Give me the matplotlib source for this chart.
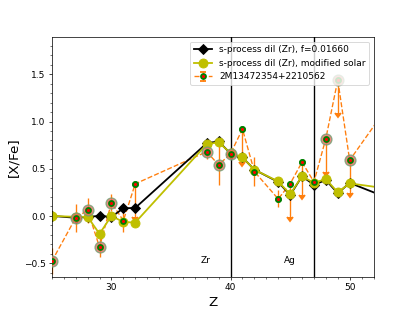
import numpy as np
import matplotlib
matplotlib.use("Agg")
import matplotlib.pyplot as plt
from matplotlib.ticker import MultipleLocator, AutoMinorLocator

# Model: s-process dilution (black diamonds)
z_model = [25, 27, 28, 29, 30, 31, 32, 38, 39, 40, 41, 42, 44, 45, 46, 47, 48, 49, 50, 56]
black_vals = [0.0, -0.02, -0.01, 0.0, -0.01, 0.08, 0.085, 0.77, 0.79, 0.66, 0.62, 0.49,
              0.36, 0.22, 0.42, 0.33, 0.38, 0.24, 0.35, 0.05]
# Model: modified solar (yellow circles)
yellow_vals = [0.0, -0.01, -0.01, -0.19, 0.0, -0.065, -0.07, 0.76, 0.78, 0.665, 0.62, 0.49,
               0.365, 0.23, 0.42, 0.35, 0.39, 0.25, 0.345, 0.24]

# Star observations
z_star = [25, 27, 28, 29, 30, 31, 32, 38, 39, 40, 41, 42, 44, 45, 46, 47, 48, 49, 50, 56]
star_vals = [-0.48, -0.02, 0.06, -0.33, 0.14, -0.05, 0.34, 0.68, 0.54, 0.66, 0.92, 0.47,
             0.18, 0.34, 0.57, 0.36, 0.82, 1.44, 0.59, 1.66]
star_err = [0.14, 0.15, 0.13, 0.11, 0.09, 0.12, 0.35, 0.08, 0.21, 0.05, 0.35, 0.15,
            0.09, 0.35, 0.35, 0.05, 0.35, 0.35, 0.35, 0.35]
star_uplim = [False, False, False, False, False, False, True, False, False, False, True, False,
              False, True, True, False, True, True, True, False]
halo_z = [25, 27, 28, 29, 30, 38, 39, 40, 48, 49, 50]
halo_vals = [-0.48, -0.02, 0.06, -0.33, 0.14, 0.68, 0.54, 0.66, 0.82, 1.44, 0.59]

line_z = [40, 47]
line_labels = ["Zr", "Ag"]

fig = plt.figure(figsize=(6.4, 4.8), dpi=415 / 6.4)
ax = fig.add_subplot(111)

for xv in line_z:
    ax.axvline(xv, color="black", lw=1.5, zorder=1)
for xv, lab in zip(line_z, line_labels):
    ax.text(xv - 2.5, -0.5, lab, fontsize=10, ha="left", va="baseline")

ax.plot(z_model, black_vals, color="black", marker="D", ms=8, lw=2,
        label="s-process dil (Zr), f=0.01660", zorder=2)
ax.plot(z_model, yellow_vals, color="y", marker="o", ms=10, lw=2,
        label="s-process dil (Zr), modified solar", zorder=2.1)

ax.errorbar(z_star, star_vals, yerr=star_err, uplims=star_uplim, fmt="--o",
            color="tab:orange", ecolor="tab:orange", mfc="red", mec="green",
            ms=5.5, mew=2, lw=1.5, elinewidth=1.5,
            label="2M13472354+2210562", zorder=1.2)
ax.plot(halo_z, halo_vals, "o", ms=12, mfc=(0.93, 0.42, 0.38), mec=(0.45, 0.62, 0.45),
        mew=1.5, alpha=0.8, ls="none", zorder=3)
ax.plot(z_star, star_vals, "o", ms=5.5, mfc="red", mec="green", mew=2,
        ls="none", zorder=3.1)

ax.set_xlim(25, 52)
ax.set_ylim(-0.645, 1.895)
ax.xaxis.set_major_locator(MultipleLocator(10))
ax.xaxis.set_minor_locator(MultipleLocator(1))
ax.yaxis.set_minor_locator(AutoMinorLocator())
ax.set_xlabel("Z", fontsize=15)
ax.set_ylabel("[X/Fe]", fontsize=15)
ax.legend(loc="upper right", fontsize=10)

fig.savefig("out.png", dpi=415 / 6.4)
